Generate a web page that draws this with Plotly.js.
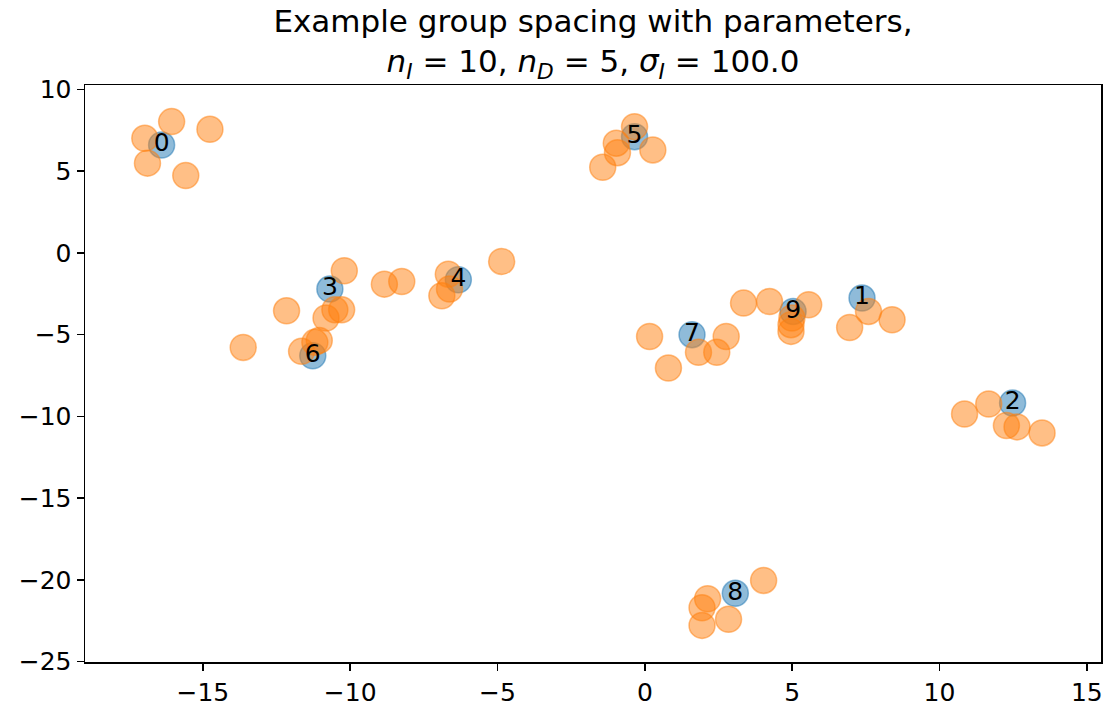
<!DOCTYPE html>
<html>
<head>
<meta charset="utf-8">
<script src="https://cdn.plot.ly/plotly-3.0.1.min.js"></script>
<style>html,body{margin:0;padding:0;background:#fff;}</style>
</head>
<body>
<div id="chart" style="width:1115px;height:707px;"></div>
<script>
// Blue "individual" points with their labels
const labels = ["0","1","2","3","4","5","6","7","8","9"];
const blueX = [-16.40, 7.37, 12.48, -10.69, -6.33, -0.35, -11.27, 1.60, 3.07, 5.03];
const blueY = [6.60, -2.76, -9.18, -2.21, -1.64, 7.11, -6.29, -5.00, -20.82, -3.58];

// Orange "group" points
const orangeX = [
  -16.06, -16.97, -14.76, -16.88, -15.58,
  -0.35, -0.97, -0.93, 0.27, -1.43,
  -10.20, -12.16, -13.63, -10.82, -10.52, -10.29, -8.84, -8.25, -4.86, -6.67, -6.63, -6.89, -11.20, -11.05, -11.65,
  0.16, 0.80, 1.82, 2.44, 2.76, 3.35, 4.23, 5.56, 4.99, 4.96, 4.96, 7.59, 8.39, 6.95,
  10.85, 11.67, 12.27, 12.63, 13.48,
  4.03, 2.13, 1.94, 1.94, 2.84
];
const orangeY = [
  8.03, 7.01, 7.56, 5.49, 4.73,
  7.72, 6.71, 6.13, 6.30, 5.24,
  -1.09, -3.54, -5.78, -3.98, -3.48, -3.48, -1.91, -1.75, -0.52, -1.30, -2.21, -2.62, -5.47, -5.35, -6.02,
  -5.11, -7.04, -6.08, -6.08, -5.11, -3.07, -2.97, -3.17, -3.98, -4.39, -4.80, -3.58, -4.09, -4.56,
  -9.85, -9.24, -10.56, -10.64, -11.01,
  -20.03, -21.15, -21.70, -22.78, -22.41
];

const xTicks = [-15, -10, -5, 0, 5, 10, 15];
const yTicks = [-25, -20, -15, -10, -5, 0, 5, 10];

const FONT = "DejaVu Sans";

const traces = [
  {
    x: blueX, y: blueY, mode: "markers", type: "scatter",
    marker: {size: 26, color: "rgba(31,119,180,0.5)", line: {color: "rgba(31,119,180,0.5)", width: 1.5}},
    hoverinfo: "skip", showlegend: false
  },
  {
    x: orangeX, y: orangeY, mode: "markers", type: "scatter",
    marker: {size: 26, color: "rgba(255,127,14,0.5)", line: {color: "rgba(255,127,14,0.5)", width: 1.5}},
    hoverinfo: "skip", showlegend: false
  },
  {
    x: blueX, y: blueY, mode: "text", type: "scatter", text: labels,
    textposition: "middle center",
    textfont: {family: FONT, size: 25, color: "#000"},
    hoverinfo: "skip", showlegend: false
  }
];

const axisCommon = {
  showgrid: false, zeroline: false,
  showline: true, mirror: true, linecolor: "#000", linewidth: 1.5,
  ticks: "outside", ticklen: 7, tickwidth: 1.5, tickcolor: "#000",
  tickfont: {family: FONT, size: 25, color: "#000"}
};

const layout = {
  width: 1115, height: 707,
  margin: {l: 85, r: 14, t: 85, b: 45, pad: 0},
  paper_bgcolor: "#fff", plot_bgcolor: "#fff",
  title: {
    text: "Example group spacing with parameters,<br><i>n</i><sub><i>I</i></sub> = 10, <i>n</i><sub><i>D</i></sub> = 5, <i>σ</i><sub><i>I</i></sub> = 100.0",
    font: {family: FONT, size: 31, color: "#000"},
    x: 0.5, xanchor: "center", xref: "paper",
    y: 0.955, yanchor: "top", yref: "container"
  },
  xaxis: Object.assign({}, axisCommon, {range: [-19.0, 15.48], tickvals: xTicks, ticktext: xTicks.map(v => v < 0 ? "\u2212" + Math.abs(v) : String(v))}),
  yaxis: Object.assign({}, axisCommon, {range: [-25.02, 10.27], tickvals: yTicks, ticktext: yTicks.map(v => v < 0 ? "\u2212" + Math.abs(v) : String(v))}),
  showlegend: false
};

Plotly.newPlot("chart", traces, layout, {staticPlot: true, displayModeBar: false});
</script>
</body>
</html>
